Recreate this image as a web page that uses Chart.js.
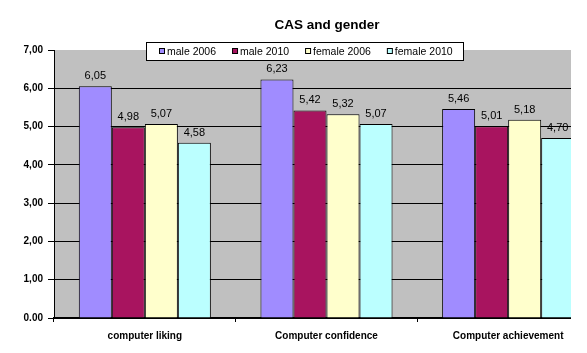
<!DOCTYPE html>
<html>
<head>
<meta charset="utf-8">
<script src="https://cdn.jsdelivr.net/npm/chart.js@4.4.1/dist/chart.umd.min.js"></script>
<style>
  html, body { margin: 0; padding: 0; background: #fff; }
  #wrap { width: 571px; height: 353px; overflow: hidden; }
</style>
</head>
<body>
<div id="wrap"><canvas id="chart" width="650" height="353"></canvas></div>
<script>
const TITLE = 'CAS and gender';
const categories = ['computer liking', 'Computer confidence', 'Computer achievement'];
const seriesNames = ['male 2006', 'male 2010', 'female 2006', 'female 2010'];
const male2006 = [6.05, 6.23, 5.46];
const male2010 = [4.98, 5.42, 5.01];
const female2006 = [5.07, 5.32, 5.18];
const female2010 = [4.58, 5.07, 4.70];
const yTickLabels = ['0.00', '1,00', '2,00', '3,00', '4,00', '5,00', '6,00', '7,00'];

const COLORS = ['#A08CFF', '#A8145F', '#FFFFCC', '#BBFFFF'];
const FONT = "'Liberation Sans', Arial, sans-serif";

const fmt = (v) => v.toFixed(2).replace('.', ',');

const excelDecor = {
  id: 'excelDecor',
  beforeDraw(chart) {
    const { ctx, chartArea: a } = chart;
    ctx.save();
    ctx.fillStyle = '#fff';
    ctx.fillRect(0, 0, chart.width, chart.height);
    ctx.fillStyle = '#C0C0C0';
    ctx.fillRect(a.left, a.top, a.right - a.left, a.bottom - a.top);
    ctx.restore();
  },
  afterDatasetsDraw(chart) {
    const { ctx } = chart;
    ctx.save();
    ctx.font = `11px ${FONT}`;
    ctx.fillStyle = '#000';
    ctx.textAlign = 'center';
    ctx.textBaseline = 'alphabetic';
    chart.data.datasets.forEach((ds, i) => {
      chart.getDatasetMeta(i).data.forEach((bar, j) => {
        ctx.fillText(fmt(ds.data[j]), bar.x, bar.y - 7);
      });
    });
    ctx.restore();
  },
  afterDraw(chart) {
    const { ctx } = chart;
    ctx.save();
    // title
    ctx.font = `bold 13.5px ${FONT}`;
    ctx.fillStyle = '#000';
    ctx.textAlign = 'center';
    ctx.textBaseline = 'alphabetic';
    ctx.fillText(TITLE, 327, 29);

    // legend box
    ctx.fillStyle = '#fff';
    ctx.fillRect(146.5, 42.5, 317, 18);
    ctx.strokeStyle = '#000';
    ctx.lineWidth = 1;
    ctx.strokeRect(146.5, 42.5, 317, 18);
    ctx.font = `10.5px ${FONT}`;
    ctx.textAlign = 'left';
    ctx.textBaseline = 'middle';
    let x = 159;
    chart.data.datasets.forEach((ds) => {
      ctx.fillStyle = ds.backgroundColor;
      ctx.fillRect(x + 0.5, 48.5, 5, 5);
      ctx.strokeStyle = '#000';
      ctx.strokeRect(x + 0.5, 48.5, 5, 5);
      ctx.fillStyle = '#000';
      ctx.fillText(ds.label, x + 8, 52);
      x += 8 + ctx.measureText(ds.label).width + 16;
    });
    ctx.restore();
  },
};

const seriesData = [male2006, male2010, female2006, female2010];

new Chart(document.getElementById('chart'), {
  type: 'bar',
  data: {
    labels: categories,
    datasets: seriesNames.map((name, i) => ({
      label: name,
      data: seriesData[i],
      backgroundColor: COLORS[i],
      borderColor: '#000',
      borderWidth: 1,
      categoryPercentage: 0.727,
      barPercentage: 1,
    })),
  },
  options: {
    responsive: false,
    animation: false,
    devicePixelRatio: 1,
    layout: { padding: { top: 50, right: 51, left: 0, bottom: 0 } },
    plugins: { legend: { display: false }, title: { display: false }, tooltip: { enabled: false } },
    scales: {
      x: {
        afterFit: (scale) => { scale.height = 35; },
        grid: { offset: true, drawOnChartArea: false, color: '#000', tickLength: 4 },
        border: { color: '#000', width: 2 },
        ticks: { color: '#000', padding: 8, maxRotation: 0, font: { family: FONT, size: 10, weight: 'bold' } },
      },
      y: {
        min: 0,
        max: 7,
        afterFit: (scale) => { scale.width = 54; },
        grid: {
          color: (c) => (c.tick && (c.tick.value === 7 || c.tick.value === 0) ? 'rgba(0,0,0,0)' : '#000'),
          tickColor: '#000',
          tickLength: 6,
        },
        border: { color: '#000', width: 1 },
        ticks: {
          stepSize: 1,
          color: '#000',
          padding: 5,
          font: { family: FONT, size: 10, weight: 'bold' },
          callback: (v, idx) => yTickLabels[idx],
        },
      },
    },
  },
  plugins: [excelDecor],
});
</script>
</body>
</html>
